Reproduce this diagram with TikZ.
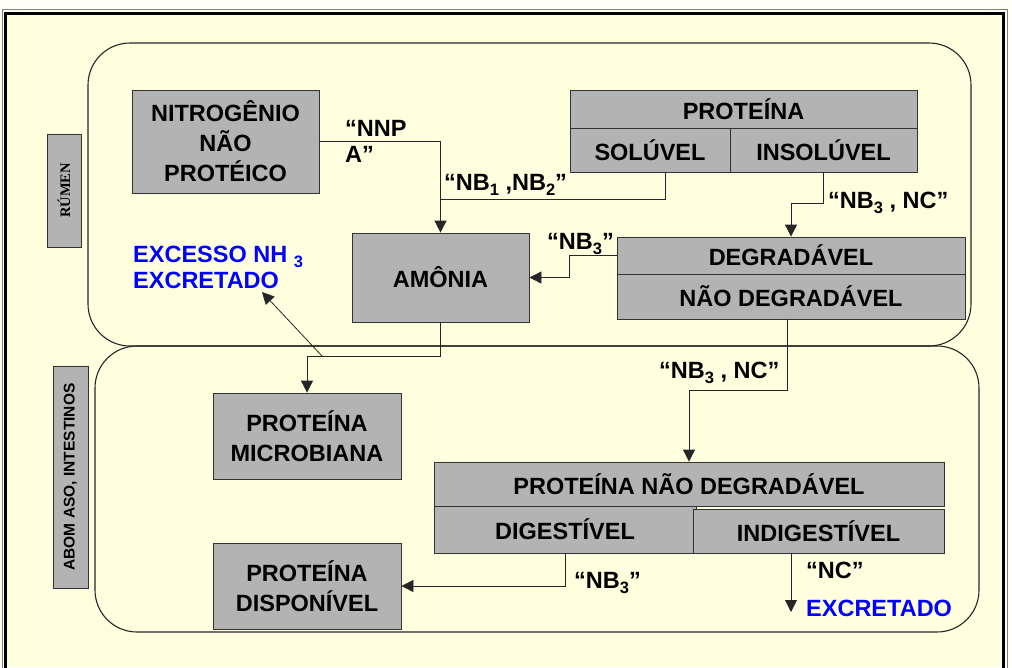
\documentclass[tikz,border=0pt]{standalone}
\usepackage{fontspec}
\setmainfont{Liberation Sans}
\newfontfamily\timesfont{Liberation Serif}
\usetikzlibrary{arrows.meta}

\definecolor{cream}{RGB}{255,255,224}
\definecolor{paper}{RGB}{255,255,244}
\definecolor{boxgray}{RGB}{179,179,179}
\definecolor{exblue}{RGB}{0,0,255}

\newcommand{\low}[1]{\raisebox{-5pt}{\fontsize{16.5}{16.5}\selectfont #1}}

\begin{document}
\begin{tikzpicture}
    [
    x = 1pt, y = -1pt,
    every node/.style = {font=\fontsize{23.5}{26}\selectfont\bfseries, inner sep=0pt},
    box/.style        = {rectangle, draw=black!80, fill=boxgray, line width=0.8pt,
                         align=center, font=\fontsize{23.5}{30}\selectfont\bfseries},
    region/.style     = {draw=black!85, line width=1.1pt, rounded corners=42pt},
    link/.style       = {draw=black!85, line width=0.8pt},
    arr/.style        = {link, -{Triangle[length=12pt,width=12pt]}},
    excr/.style       = {text=exblue}
    ]
    \useasboundingbox (0,0) rectangle (1012,667);
    \fill[paper] (0,0) rectangle (1012,667);
    \fill[cream] (5,13) rectangle (1004,667);
    \draw[black!50, line width=0.8pt] (2.5,680) |- (1007.5,9.5) -- (1007.5,680);
    \draw[black, line width=3pt] (5.5,680) |- (1003.5,13.5) -- (1003.5,680);

    % rumen and abomaso
    \draw[region] (88,43) rectangle (971,346);
    \draw[region] (95,346) rectangle (979,632);

    \node[box, rotate=90, minimum width=113pt, minimum height=34pt,
          font=\timesfont\fontsize{14.5}{14.5}\selectfont\bfseries] (rumen) at (64,190.5) {RÚMEN};
    \node[box, rotate=90, minimum width=222pt, minimum height=35pt,
          font=\fontsize{15.5}{15.5}\selectfont\bfseries] (abomaso) at (70.5,477) {ABOM ASO, INTESTINOS};

    \node[box, minimum width=187pt, minimum height=103pt] (nnp) at (225.5,141.5) {NITROGÊNIO\\NÃO\\PROTÉICO};
    \node[box, minimum width=177pt, minimum height=89pt] (amonia) at (440.5,277.5) {AMÔNIA};
    \node[box, minimum width=347pt, minimum height=38pt] (prot) at (743.5,109) {PROTEÍNA};
    \node[box, minimum width=160pt, minimum height=44pt] (sol) at (650,150) {SOLÚVEL};
    \node[box, minimum width=187pt, minimum height=44pt] (insol) at (823.5,150) {INSOLÚVEL};
    \node[box, minimum width=348pt, minimum height=37pt] (deg) at (791,255.5) {DEGRADÁVEL};
    \node[box, minimum width=348pt, minimum height=45pt] (naodeg) at (791,296.5) {NÃO DEGRADÁVEL};
    \node[box, minimum width=188pt, minimum height=86pt] (micro) at (307,436) {PROTEÍNA\\MICROBIANA};
    \node[box, minimum width=188pt, minimum height=86pt] (disp) at (307,586) {PROTEÍNA\\DISPONÍVEL};
    \node[box, minimum width=510pt, minimum height=44pt] (pnd) at (689,484) {PROTEÍNA NÃO DEGRADÁVEL};
    \node[box, minimum width=262pt, minimum height=47pt] (dig) at (565,529.5) {DIGESTÍVEL};
    \node[box, minimum width=251pt, minimum height=44pt] (indig) at (818.5,531) {INDIGESTÍVEL};

    % connectors
    \draw[arr] (nnp.east) -| (amonia.north);
    \draw[link] (sol.south -| 665,0) |- (amonia.north |- 0,199);
    \draw[arr] (insol.south) -- ++(0,31) -| (deg.north);
    \draw[arr] (deg.west) -- ++(-47,0) |- (amonia.east);
    \draw[arr] (amonia.south) -- ++(0,34) -| (micro.north);
    \coordinate (split) at (322,356);
    \coordinate (extip) at (262,292);
    \draw[arr] (split) -- (extip);
    \draw[arr] (naodeg.south -| 787,0) -- ++(0,71) -| (pnd.north);
    \draw[arr] (dig.south) |- (disp.east);
    \coordinate (exout) at (791,612);
    \draw[arr] (indig.south -| exout) -- (exout);

    % labels
    \node[anchor=west, align=left] (nnplbl) at (345,141) {“NNP\\A”};
    \node[anchor=base west] (nb12) at (444,190) {“NB\low{1} ,NB\low{2}”};
    \node[anchor=base west] (nb3a) at (547,249) {“NB\low{3}”};
    \node[anchor=base west] (nb3nca) at (828,208) {“NB\low{3} , NC”};
    \node[anchor=base west] (nb3ncb) at (659,378) {“NB\low{3} , NC”};
    \node[anchor=base west] (nb3b) at (574,588) {“NB\low{3}”};
    \node[anchor=base west] (nc) at (806,578) {“NC”};
    \node[excr, anchor=base west] (excretado) at (806,616) {EXCRETADO};
    \node[excr, anchor=west, align=left] (excesso) at (133,267) {EXCESSO NH \low{3}\\EXCRETADO};
\end{tikzpicture}
\end{document}
